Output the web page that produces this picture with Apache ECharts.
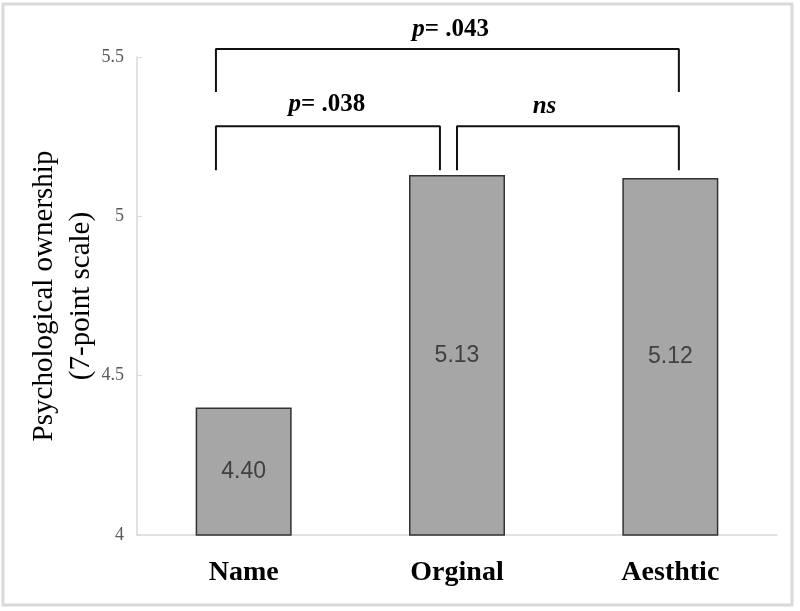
<!DOCTYPE html>
<html>
<head>
<meta charset="utf-8">
<title>Psychological ownership</title>
<script src="https://cdn.jsdelivr.net/npm/echarts@6/dist/echarts.min.js"></script>
<style>
  html, body { margin: 0; padding: 0; background: #fff; }
  #chart { width: 800px; height: 611px; }
</style>
</head>
<body>
<div id="chart"></div>
<script>
// bar data
const categories = ['Name', 'Orginal', 'Aesthtic']
const means = [4.40, 5.13, 5.12]
const yTicks = [4, 4.5, 5, 5.5]

// significance brackets, x in category units (0 = Name centre), y in scale units
// [xLeft, xRight, yTop, yFoot]
const brackets = [
  [-0.13, 0.92, 5.283, 5.145],
  [1.0, 2.04, 5.283, 5.145],
  [-0.13, 2.04, 5.525, 5.39]
]
const bracketLabels = ['p= .038', 'ns', 'p= .043']
const bracketLabelPos = [[0.39, 5.35], [1.41, 5.345], [0.97, 5.585]]

const serif = '"Liberation Serif", "DejaVu Serif", serif'

const chart = echarts.init(document.getElementById('chart'))

const bracketSeries = brackets.map(function (b) {
  return {
    type: 'line',
    xAxisIndex: 1,
    data: [[b[0], b[3]], [b[0], b[2]], [b[1], b[2]], [b[1], b[3]]],
    symbol: 'none',
    clip: false,
    silent: true,
    animation: false,
    lineStyle: { color: '#111', width: 2 }
  }
})

chart.setOption({
  animation: false,
  graphic: [{
    type: 'rect',
    shape: { x: 3, y: 4, width: 789, height: 601 },
    style: { fill: 'none', stroke: '#d9d9d9', lineWidth: 3 },
    silent: true
  }],
  grid: {
    top: 57,
    left: 137,
    right: 23,
    bottom: 76
  },
  xAxis: [{
    type: 'category',
    data: categories,
    axisLine: { lineStyle: { color: '#d9d9d9', width: 1.5 } },
    axisTick: { show: false },
    axisLabel: {
      margin: 24,
      color: '#000',
      fontFamily: serif,
      fontWeight: 'bold',
      fontSize: 28
    }
  }, {
    type: 'value',
    show: false,
    min: -0.5,
    max: 2.5
  }],
  yAxis: {
    type: 'value',
    min: yTicks[0],
    max: yTicks[yTicks.length - 1],
    interval: yTicks[1] - yTicks[0],
    name: 'Psychological ownership\n(7-point scale)',
    nameLocation: 'middle',
    nameRotate: 90,
    nameGap: 37,
    nameMoveOverlap: false,
    nameTextStyle: {
      color: '#000',
      fontFamily: serif,
      fontSize: 29,
      lineHeight: 37
    },
    axisLine: { show: true, onZero: false, lineStyle: { color: '#d9d9d9', width: 1.5 } },
    axisTick: { show: true, inside: true, length: 5, lineStyle: { color: '#d9d9d9' } },
    splitLine: { show: false },
    axisLabel: {
      margin: 13,
      color: '#595959',
      fontFamily: serif,
      fontSize: 18
    }
  },
  series: [{
    type: 'bar',
    data: means,
    barWidth: '45%',
    itemStyle: {
      color: '#a6a6a6',
      borderColor: '#333',
      borderWidth: 1.5
    },
    label: {
      show: true,
      position: 'inside',
      color: '#404040',
      fontFamily: '"Liberation Sans", Arial, sans-serif',
      fontSize: 23,
      formatter: function (p) { return p.value.toFixed(2) }
    }
  }].concat(bracketSeries, [{
    type: 'scatter',
    xAxisIndex: 1,
    symbolSize: 2,
    itemStyle: { color: 'rgba(0,0,0,0)' },
    clip: false,
    silent: true,
    data: bracketLabelPos.map(function (p, i) {
      return { value: p, name: bracketLabels[i] }
    }),
    label: {
      show: true,
      position: 'inside',
      formatter: function (p) {
        const t = p.name
        if (t.charAt(0) === 'p') return '{i|p}{b|' + t.slice(1) + '}'
        return '{i|' + t + '}'
      },
      rich: {
        i: { fontFamily: serif, fontSize: 25, fontWeight: 'bold', fontStyle: 'italic', color: '#000', opacity: 1 },
        b: { fontFamily: serif, fontSize: 25, fontWeight: 'bold', color: '#000', opacity: 1 }
      }
    }
  }])
})
</script>
</body>
</html>
